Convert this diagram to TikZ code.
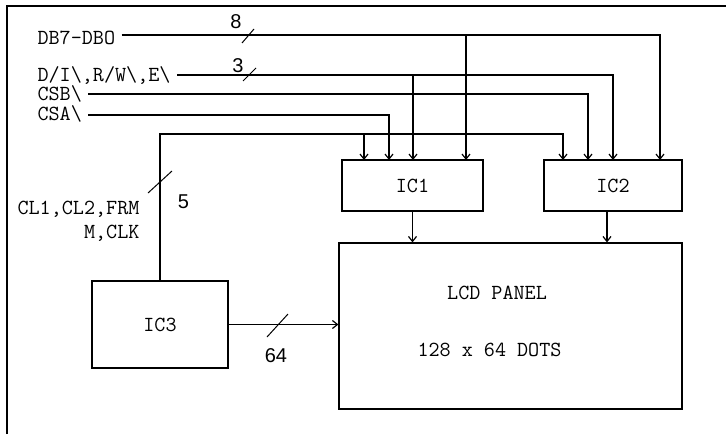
\documentclass[tikz,border=0pt]{standalone}
\usepackage{fontspec}
\usetikzlibrary{arrows.meta}
\newfontfamily\numfont{Liberation Sans}
\begin{document}
\begin{tikzpicture}[x=1pt,y=-1pt,line width=1.2pt,
  lbl/.style={font=\ttfamily\fontsize{21.5}{22}\selectfont,inner sep=0pt},
  num/.style={font=\numfont\fontsize{20}{20}\selectfont,inner sep=0pt},
  chip/.style={draw,lbl,line width=1.2pt},
  sig/.style={-{Straight Barb[length=5pt,width=8pt]},shorten <=6pt},
  link/.style={-{Straight Barb[length=5pt,width=8pt]}},
  slash/.style={line width=1pt}]
\useasboundingbox (0,0) rectangle (726,434);
% frame
\draw (7,434) -- (7,6) -- (726,6);
% boxes
\node[chip,minimum width=141pt,minimum height=51pt] (ic1) at (412.5,185.5) {IC1};
\node[chip,minimum width=138pt,minimum height=51pt] (ic2) at (613,185.5) {IC2};
\node[draw,minimum width=343pt,minimum height=166pt] (lcd) at (510.5,326) {};
\node[lbl,anchor=base] (lcdt) at (497,299) {LCD PANEL};
\node[lbl,anchor=base] (dots) at (489.5,356) {128 x 64 DOTS};
\node[chip,minimum width=136pt,minimum height=87pt] (ic3) at (160,324.5) {IC3};
% signal labels
\node[lbl,anchor=base west] (db) at (37,44) {DB7-DBO};
\node[lbl,anchor=base west] (ctl) at (37,81) {D/I\textbackslash,R/W\textbackslash,E\textbackslash};
\node[lbl,anchor=base west] (csb) at (37,100.5) {CSB\textbackslash};
\node[lbl,anchor=base west] (csa) at (37,120) {CSA\textbackslash};
\node[lbl,anchor=base east] (cl) at (140,214) {CL1,CL2,FRM};
\node[lbl,anchor=base east] (mclk) at (140,238) {M,CLK};
% entry points
\coordinate (a1) at (364,160);
\coordinate (a2) at (389,160);
\coordinate (a3) at (413,160);
\coordinate (a4) at (466,160);
\coordinate (b1) at (563,160);
\coordinate (b2) at (588,160);
\coordinate (b3) at (613,160);
\coordinate (b4) at (660,160);
\coordinate (dby) at (0,35);
\coordinate (cty) at (0,75);
\coordinate (sby) at (0,94);
\coordinate (say) at (0,115);
\coordinate (bus) at (0,134);
% buses
\draw[sig] (db.east |- dby) -| (b4);
\draw[link] (a4 |- dby) -- (a4);
\draw[sig] (ctl.east |- cty) -| (b3);
\draw[link] (a3 |- cty) -- (a3);
\draw[sig] (csb.east |- sby) -| (b2);
\draw[sig] (csa.east |- say) -| (a2);
\draw[link] (ic3.north) |- (b1 |- bus) -- (b1);
\draw[link] (a1 |- bus) -- (a1);
\draw[link] (ic1.south) -- (ic1.south |- lcd.north);
\draw[link] ([xshift=-6pt]ic2.south) -- ([xshift=-6pt]ic2.south |- lcd.north);
\draw[link] (ic3.east) -- (ic3.east -| lcd.west);
% bus width marks
\draw[slash] (242,43) -- (254,29);
\node[num,anchor=base] (n8) at (236,28) {8};
\draw[slash] (243,81) -- (256,68);
\node[num,anchor=base] (n3) at (238,72) {3};
\draw[slash] (148,193) -- (172,171);
\node[num,anchor=base] (n5) at (183.5,208) {5};
\draw[slash] (267,337) -- (288,314);
\node[num,anchor=base] (n64) at (276,362) {64};
\end{tikzpicture}
\end{document}
